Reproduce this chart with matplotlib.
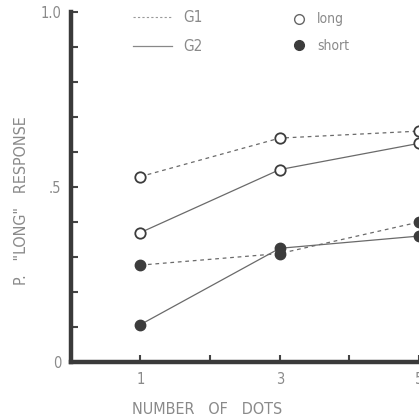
import matplotlib.pyplot as plt
from matplotlib.lines import Line2D

plt.rcParams['font.family'] = ['DejaVu Sans']
plt.rcParams['font.stretch'] = 'condensed'

dots = [1, 3, 5]
g1_long = [0.53, 0.64, 0.66]
g2_long = [0.37, 0.55, 0.625]
g1_short = [0.277, 0.31, 0.40]
g2_short = [0.107, 0.325, 0.36]

line_col = '#6a6a6a'
mark_col = '#3c3c3c'
text_col = '#8a8a8a'

fig = plt.figure(figsize=(4.19, 4.19), dpi=100)
ax = fig.add_axes([0.169, 0.136, 0.831, 0.835])

# G1 dashed, G2 solid
ax.plot(dots, g1_long, ls=(0, (3, 3)), color=line_col, lw=0.9,
        marker='o', ms=7.5, mfc='white', mec=mark_col, mew=1.3)
ax.plot(dots, g2_long, ls='-', color=line_col, lw=0.9,
        marker='o', ms=7.5, mfc='white', mec=mark_col, mew=1.3)
ax.plot(dots, g1_short, ls=(0, (3, 3)), color=line_col, lw=0.9,
        marker='o', ms=7.5, mfc=mark_col, mec=mark_col)
ax.plot(dots, g2_short, ls='-', color=line_col, lw=0.9,
        marker='o', ms=7.5, mfc=mark_col, mec=mark_col)

ax.set_xlim(0, 5)
ax.set_ylim(0, 1.0)
ax.set_xticks([1, 2, 3, 4, 5])
ax.set_xticklabels(['1', '', '3', '', '5'])
ax.set_yticks([i / 10 for i in range(11)])
ax.set_yticklabels(['0', '', '', '', '', '.5', '', '', '', '', '1.0'])
ax.tick_params(direction='in', length=5, width=1.5, color='#444444',
               labelcolor=text_col, labelsize=10.5, pad=7)

for s in ['top', 'right']:
    ax.spines[s].set_visible(False)
for s in ['left', 'bottom']:
    ax.spines[s].set_linewidth(3.2)
    ax.spines[s].set_color('#3a3a3a')

ax.set_xlabel('NUMBER   OF   DOTS', color=text_col, fontsize=11.5, labelpad=12)
ax.set_ylabel('P.   "LONG"   RESPONSE', color=text_col, fontsize=11.5, labelpad=14)
ax.xaxis.set_label_coords(0.39, -0.115)
ax.yaxis.set_label_coords(-0.12, 0.46)
ax.patch.set_alpha(0)

h1 = [Line2D([], [], ls=(0, (2, 2)), color='#999999', lw=0.8),
      Line2D([], [], ls='-', color='#888888', lw=0.9)]
leg1 = ax.legend(h1, ['G1', 'G2'], loc='upper left', bbox_to_anchor=(0.14, 1.045),
                 frameon=False, handlelength=2.5, labelspacing=0.9, fontsize=11,
                 labelcolor=text_col)
ax.add_artist(leg1)
h2 = [Line2D([], [], ls='', marker='o', ms=7, mfc='white', mec='#666666'),
      Line2D([], [], ls='', marker='o', ms=7, mfc=mark_col, mec=mark_col)]
ax.legend(h2, ['long', 'short'], loc='upper left', bbox_to_anchor=(0.6, 1.035),
          frameon=False, handlelength=1, labelspacing=0.9, fontsize=10,
          labelcolor=text_col)

fig.savefig('out.png', dpi=100)
